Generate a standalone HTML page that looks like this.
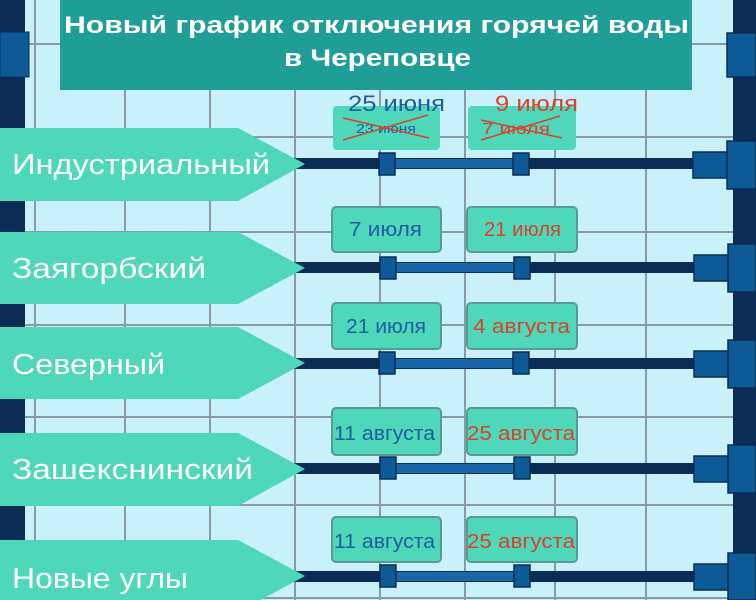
<!DOCTYPE html>
<html><head><meta charset="utf-8"><style>
body{margin:0;width:756px;height:600px;overflow:hidden;background:#c9f1fa}
svg{display:block}
text{font-family:"Liberation Sans","DejaVu Sans",sans-serif}
</style></head><body>
<svg width="756" height="600" viewBox="0 0 756 600">
<rect width="756" height="600" fill="#c9f1fa"/>
<g stroke="#8a9aa2" stroke-width="2">
<line x1="35" y1="0" x2="35" y2="600"/><line x1="125" y1="0" x2="125" y2="600"/>
<line x1="210" y1="0" x2="210" y2="600"/><line x1="295" y1="0" x2="295" y2="600"/>
<line x1="380" y1="0" x2="380" y2="600"/><line x1="465" y1="0" x2="465" y2="600"/>
<line x1="555" y1="0" x2="555" y2="600"/><line x1="646" y1="0" x2="646" y2="600"/>
<line x1="0" y1="44" x2="756" y2="44"/><line x1="0" y1="137" x2="756" y2="137"/>
<line x1="0" y1="232" x2="756" y2="232"/><line x1="0" y1="325" x2="756" y2="325"/>
<line x1="0" y1="417" x2="756" y2="417"/><line x1="0" y1="505" x2="756" y2="505"/>
<line x1="0" y1="598" x2="756" y2="598"/>
</g>
<rect x="0" y="0" width="25" height="600" fill="#0b2d55"/>
<rect x="0" y="32" width="29" height="45" fill="#0e5a96" stroke="#0b2d55"/>
<rect x="733" y="0" width="23" height="600" fill="#0b2d55"/>
<rect x="727" y="33" width="29" height="44" fill="#0e5a96" stroke="#0b2d55" stroke-width="1.5"/>
<rect x="60" y="0" width="632" height="90" fill="#1f9e98"/>
<text x="64" y="33" textLength="625" lengthAdjust="spacingAndGlyphs" fill="#fff" font-size="24" font-weight="bold">Новый график отключения горячей воды</text>
<text x="284" y="66" textLength="187" lengthAdjust="spacingAndGlyphs" fill="#fff" font-size="24" font-weight="bold">в Череповце</text>
<g fill="#0b2d55">
<rect x="290" y="158" width="445" height="11"/>
<rect x="290" y="262" width="445" height="11"/>
<rect x="290" y="358" width="445" height="11"/>
<rect x="290" y="463" width="445" height="11"/>
<rect x="290" y="571" width="445" height="11"/>
</g>
<g fill="#1a66a6">
<rect x="390" y="159" width="130" height="9"/>
<rect x="390" y="263" width="130" height="9"/>
<rect x="390" y="359" width="130" height="9"/>
<rect x="390" y="464" width="130" height="9"/>
<rect x="390" y="572" width="130" height="9"/>
</g>
<g fill="#0e5a96" stroke="#0b2d55" stroke-width="1.5">
<rect x="379" y="153" width="16" height="22"/><rect x="513" y="153" width="16" height="22"/>
<rect x="380" y="257" width="16" height="22"/><rect x="514" y="257" width="16" height="22"/>
<rect x="379" y="352" width="16" height="22"/><rect x="513" y="352" width="16" height="22"/>
<rect x="380" y="457" width="16" height="22"/><rect x="514" y="457" width="16" height="22"/>
<rect x="380" y="565" width="16" height="22"/><rect x="514" y="565" width="16" height="22"/>
<rect x="693" y="152" width="35" height="26"/><rect x="727" y="141" width="29" height="48"/>
<rect x="694" y="255" width="35" height="26"/><rect x="728" y="244" width="28" height="48"/>
<rect x="694" y="351" width="35" height="26"/><rect x="728" y="340" width="28" height="48"/>
<rect x="694" y="456" width="35" height="26"/><rect x="728" y="445" width="28" height="48"/>
<rect x="694" y="564" width="35" height="26"/><rect x="728" y="553" width="28" height="47"/>
</g>
<g fill="#4fd7b9">
<polygon points="0,128 238,128 305,164 238,201 0,201"/>
<polygon points="0,232 238,232 305,268 238,304 0,304"/>
<polygon points="0,327 238,327 305,363 238,399 0,399"/>
<polygon points="0,433 238,433 305,469 238,506 0,506"/>
<polygon points="0,540 238,540 305,576 238,612 0,612"/>
</g>
<g fill="#fff" font-size="29">
<text x="12" y="174" textLength="258" lengthAdjust="spacingAndGlyphs">Индустриальный</text>
<text x="12" y="278" textLength="194" lengthAdjust="spacingAndGlyphs">Заягорбский</text>
<text x="12" y="374" textLength="153" lengthAdjust="spacingAndGlyphs">Северный</text>
<text x="12" y="479" textLength="241" lengthAdjust="spacingAndGlyphs">Зашекснинский</text>
<text x="12" y="588" textLength="176" lengthAdjust="spacingAndGlyphs">Новые углы</text>
</g>
<g fill="#4fd7b9" stroke="#5a9a92" stroke-width="2">
<rect x="333" y="106" width="107" height="44" rx="4" stroke="none"/><rect x="468" y="106" width="108" height="44" rx="4" stroke="none"/>
<rect x="332" y="207" width="109" height="45" rx="4"/><rect x="467" y="207" width="110" height="45" rx="4"/>
<rect x="332" y="303" width="109" height="46" rx="4"/><rect x="467" y="303" width="110" height="46" rx="4"/>
<rect x="332" y="408" width="109" height="47" rx="4"/><rect x="467" y="408" width="110" height="47" rx="4"/>
<rect x="332" y="517" width="109" height="45" rx="4"/><rect x="467" y="517" width="110" height="45" rx="4"/>
</g>
<g font-size="20">
<text x="348" y="111" textLength="97" lengthAdjust="spacingAndGlyphs" fill="#1d5ea0" font-size="22">25 июня</text>
<text x="495" y="111" textLength="83" lengthAdjust="spacingAndGlyphs" fill="#d9432e" font-size="22">9 июля</text>
<text x="356" y="133" textLength="60" lengthAdjust="spacingAndGlyphs" fill="#1d5ea0" font-size="13">23 июня</text>
<text x="482" y="134" textLength="68" lengthAdjust="spacingAndGlyphs" fill="#d9432e" font-size="16">7 июля</text>
<text x="349" y="236" textLength="73" lengthAdjust="spacingAndGlyphs" fill="#1d5ea0">7 июля</text>
<text x="484" y="236" textLength="77" lengthAdjust="spacingAndGlyphs" fill="#d9432e">21 июля</text>
<text x="346" y="333" textLength="80" lengthAdjust="spacingAndGlyphs" fill="#1d5ea0">21 июля</text>
<text x="473" y="333" textLength="97" lengthAdjust="spacingAndGlyphs" fill="#d9432e">4 августа</text>
<text x="334" y="440" textLength="101" lengthAdjust="spacingAndGlyphs" fill="#1d5ea0">11 августа</text>
<text x="467" y="440" textLength="108" lengthAdjust="spacingAndGlyphs" fill="#d9432e">25 августа</text>
<text x="334" y="548" textLength="101" lengthAdjust="spacingAndGlyphs" fill="#1d5ea0">11 августа</text>
<text x="467" y="548" textLength="108" lengthAdjust="spacingAndGlyphs" fill="#d9432e">25 августа</text>
</g>
<g stroke="#d9432e" stroke-width="1.5">
<line x1="343" y1="140" x2="428" y2="115"/><line x1="343" y1="118" x2="429" y2="138"/>
<line x1="481" y1="140" x2="560" y2="116"/><line x1="481" y1="120" x2="562" y2="138"/>
</g>
</svg>
</body></html>
